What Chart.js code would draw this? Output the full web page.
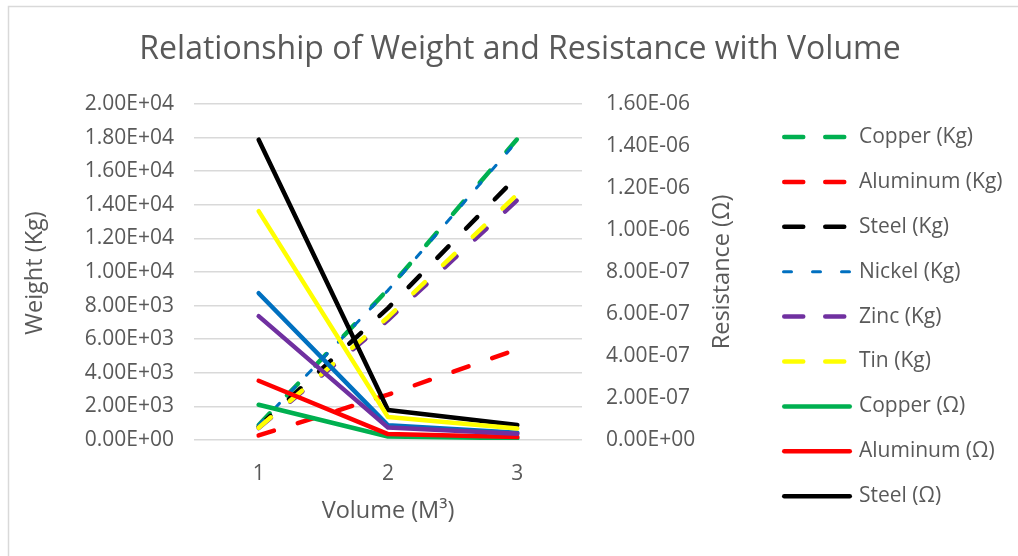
<!DOCTYPE html>
<html>
<head>
<meta charset="utf-8">
<script src="https://cdn.jsdelivr.net/npm/chart.js@4.4.1/dist/chart.umd.min.js"></script>
<style>
    html, body { margin: 0; padding: 0; background: #fff; }
    #wrap { width: 1018px; height: 556px; }
</style>
</head>
<body>
<div id="wrap"><canvas id="chart"></canvas></div>
<script>
// Data
const volumes = ['1', '2', '3'];

const copperKg   = [896, 8960, 17920];
const aluminumKg = [270, 2700, 5400];
const steelKg    = [785, 7850, 15700];
const nickelKg   = [891, 8908, 17816];
const zincKg     = [714, 7140, 14280];
const tinKg      = [731, 7310, 14620];

const copperOhm   = [1.68e-7, 1.68e-8, 8.4e-9];
const aluminumOhm = [2.82e-7, 2.82e-8, 1.41e-8];
const steelOhm    = [1.43e-6, 1.43e-7, 7.15e-8];
const nickelOhm   = [6.99e-7, 6.99e-8, 3.5e-8];
const zincOhm     = [5.9e-7, 5.9e-8, 2.95e-8];
const tinOhm      = [1.09e-6, 1.09e-7, 5.45e-8];

const weightTicks = [0, 2000, 4000, 6000, 8000, 10000, 12000, 14000, 16000, 18000, 20000];
const resistanceTicks = [0, 2e-7, 4e-7, 6e-7, 8e-7, 1e-6, 1.2e-6, 1.4e-6, 1.6e-6];

const TEXT = '#595959';
const FONT = '"Open Sans", sans-serif';
const GREEN = '#00B050', RED = '#FF0000', BLACK = '#000000',
      BLUE = '#0070C0', PURPLE = '#7030A0', YELLOW = '#FFFF00';

// Excel-style scientific label: 1.60E-06
function sci(v) {
    if (Math.abs(v) < 1e-20) return '0.00E+00';
    let e = Math.floor(Math.log10(Math.abs(v)));
    let m = v / Math.pow(10, e);
    if (Math.round(m * 100) / 100 >= 10) { m /= 10; e += 1; }
    const sign = e < 0 ? '-' : '+';
    return m.toFixed(2) + 'E' + sign + String(Math.abs(e)).padStart(2, '0');
}

const LONG_DASH = [16, 25];
const NICKEL_DASH = [7, 16];

function series(label, data, color, axis, dash, width, legendDash) {
    return {
        label, data,
        borderColor: color,
        backgroundColor: color,
        yAxisID: axis,
        borderDash: dash,
        borderWidth: width,
        borderCapStyle: 'round',
        borderJoinStyle: 'round',
        legendDash,
        pointRadius: 0,
        pointHoverRadius: 0,
        tension: 0,
        fill: false,
    };
}

const datasets = [
    series('Copper (Kg)',   copperKg,   GREEN,  'y', LONG_DASH, 4.5, [19, 22]),
    series('Aluminum (Kg)', aluminumKg, RED,    'y', LONG_DASH, 4.5, [19, 22]),
    series('Steel (Kg)',    steelKg,    BLACK,  'y', LONG_DASH, 4.5, [19, 22]),
    series('Nickel (Kg)',   nickelKg,   BLUE,   'y', NICKEL_DASH, 3, [8, 21]),
    series('Zinc (Kg)',     zincKg,     PURPLE, 'y', LONG_DASH, 4.5, [19, 22]),
    series('Tin (Kg)',      tinKg,      YELLOW, 'y', LONG_DASH, 4.5, [19, 22]),
    series('Copper (Ω)',    copperOhm,   GREEN,  'y1', [], 4.5, []),
    series('Aluminum (Ω)',  aluminumOhm, RED,    'y1', [], 4.5, []),
    series('Steel (Ω)',     steelOhm,    BLACK,  'y1', [], 4.5, []),
    series('Nickel (Ω)',    nickelOhm,   BLUE,   'y1', [], 4.5, []),
    series('Zinc (Ω)',      zincOhm,     PURPLE, 'y1', [], 4.5, []),
    series('Tin (Ω)',       tinOhm,      YELLOW, 'y1', [], 4.5, []),
];
// later series on top, like the spreadsheet draws them
datasets.forEach((d, i) => { d.order = datasets.length - i; });

// Title, axis titles, frame and the clipped legend (first 9 entries only)
const decorations = {
    id: 'decorations',
    beforeDraw(chart) {
        const ctx = chart.ctx;
        ctx.save();
        ctx.strokeStyle = '#d9d9d9';
        ctx.lineWidth = 1.5;
        ctx.strokeRect(8.5, 6.5, 1200, 700);
        ctx.restore();
    },
    afterDraw(chart) {
        const ctx = chart.ctx;
        const area = chart.chartArea;
        ctx.save();
        ctx.fillStyle = TEXT;
        ctx.textAlign = 'center';
        ctx.textBaseline = 'middle';

        ctx.font = `32px ${FONT}`;
        ctx.fillText('Relationship of Weight and Resistance with Volume', 520, 50);

        ctx.font = `23.5px ${FONT}`;
        ctx.fillText('Volume (M³)', (area.left + area.right) / 2, 511);

        ctx.save();
        ctx.translate(35, 273);
        ctx.rotate(-Math.PI / 2);
        ctx.fillText('Weight (Kg)', 0, 0);
        ctx.restore();

        ctx.save();
        ctx.translate(722, 272);
        ctx.rotate(-Math.PI / 2);
        ctx.fillText('Resistance (Ω)', 0, 0);
        ctx.restore();

        // legend
        ctx.textAlign = 'left';
        ctx.font = `21px ${FONT}`;
        chart.data.datasets.slice(0, 9).forEach((ds, i) => {
            const y = 137 + i * 44.9;
            const half = ds.borderWidth / 2;
            ctx.save();
            ctx.strokeStyle = ds.borderColor;
            ctx.lineWidth = ds.borderWidth;
            ctx.lineCap = 'round';
            ctx.setLineDash(ds.legendDash);
            ctx.beginPath();
            ctx.moveTo(782 + half, y);
            ctx.lineTo(852 - half, y);
            ctx.stroke();
            ctx.restore();
            ctx.fillText(ds.label, 859, y);
        });
        ctx.restore();
    }
};

new Chart(document.getElementById('chart'), {
    type: 'line',
    data: { labels: volumes, datasets },
    plugins: [decorations],
    options: {
        responsive: true,
        maintainAspectRatio: false,
        animation: false,
        layout: { padding: { left: 0, right: 288, top: 104, bottom: 16 } },
        plugins: {
            legend: { display: false },
            title: { display: false },
            tooltip: { enabled: false },
        },
        scales: {
            x: {
                type: 'category',
                offset: true,
                grid: { display: false, drawTicks: false },
                border: { display: false },
                ticks: { color: TEXT, font: { family: FONT, size: 21 }, padding: 21 },
                afterFit: s => { s.height = 100; },
            },
            y: {
                position: 'left',
                min: 0,
                max: 20000,
                afterBuildTicks: s => { s.ticks = weightTicks.map(v => ({ value: v })); },
                ticks: { color: TEXT, font: { family: FONT, size: 21 }, padding: 20, callback: v => sci(v) },
                grid: { color: '#d9d9d9', lineWidth: 1.5, drawTicks: false },
                border: { display: false },
                afterFit: s => { s.width = 194; },
            },
            y1: {
                position: 'right',
                min: 0,
                max: 1.6e-6,
                afterBuildTicks: s => { s.ticks = resistanceTicks.map(v => ({ value: v })); },
                ticks: { color: TEXT, font: { family: FONT, size: 21 }, padding: 24, callback: v => sci(v) },
                grid: { drawOnChartArea: false, drawTicks: false },
                border: { display: false },
                afterFit: s => { s.width = 148; },
            },
        },
    },
});
</script>
</body>
</html>
